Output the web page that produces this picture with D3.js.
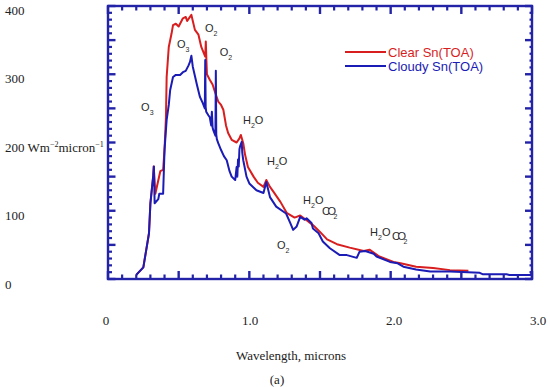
<!DOCTYPE html>
<html>
<head>
<meta charset="utf-8">
<script src="https://cdn.jsdelivr.net/npm/d3@7"></script>
<style>
  body { margin: 0; background: #fff; }
  svg { display: block; }
</style>
</head>
<body>
<svg id="chart" width="550" height="387"></svg>
<script>
// clear sky spectrum (red)
const clearWavelength = [0.20, 0.25, 0.27, 0.29, 0.30, 0.32, 0.323, 0.335, 0.37, 0.39, 0.40, 0.41, 0.415, 0.43, 0.45, 0.46,
    0.48, 0.50, 0.52, 0.53, 0.55, 0.56, 0.58, 0.59, 0.60, 0.615, 0.64, 0.66, 0.68, 0.688, 0.692, 0.696, 0.70, 0.72, 0.74,
    0.757, 0.78, 0.80, 0.816, 0.835, 0.85, 0.875, 0.91, 0.93, 0.94, 0.957, 0.97, 0.99, 1.03, 1.06, 1.10, 1.12, 1.146,
    1.17, 1.22, 1.264, 1.32, 1.36, 1.405, 1.45, 1.50, 1.55, 1.62, 1.71, 1.81, 1.85, 1.92, 2.02, 2.07, 2.18, 2.30, 2.42, 2.55]
const clearValues = [6, 17, 42, 67, 111, 151, 165, 125, 158, 160, 190, 237, 296, 340, 360, 372,
    374, 370, 378, 382, 384, 378, 384, 387, 378, 365, 358, 340, 330, 326, 348, 322, 300, 292, 285,
    274, 260, 255, 248, 225, 214, 204, 200, 206, 211, 199, 182, 164, 150, 141, 135, 145, 135,
    128, 113, 97, 90, 93, 86, 79, 69, 58, 51, 46, 41, 43, 33, 25, 23, 18, 16, 13, 12]

// cloudy spectrum (blue)
const cloudyWavelength = [0.20, 0.25, 0.27, 0.29, 0.30, 0.32, 0.325, 0.33, 0.356, 0.363, 0.39, 0.40, 0.415, 0.43, 0.44, 0.46,
    0.48, 0.51, 0.53, 0.55, 0.57, 0.58, 0.59, 0.60, 0.63, 0.65, 0.67, 0.685, 0.688, 0.691, 0.695, 0.71, 0.72, 0.73,
    0.735, 0.74, 0.745, 0.76, 0.763, 0.766, 0.77, 0.78, 0.80, 0.82, 0.84, 0.86, 0.875, 0.90, 0.91, 0.915, 0.92, 0.925,
    0.93, 0.934, 0.946, 0.95, 0.957, 0.98, 1.00, 1.05, 1.10, 1.12, 1.146, 1.19, 1.26, 1.29, 1.31, 1.335, 1.36, 1.39,
    1.405, 1.44, 1.45, 1.49, 1.52, 1.57, 1.64, 1.69, 1.76, 1.78, 1.82, 1.88, 1.90, 1.995, 2.05, 2.09, 2.18, 2.28,
    2.42, 2.63, 2.65, 2.82, 2.84, 2.99, 3.0]
const cloudyValues = [6, 17, 42, 67, 111, 151, 165, 111, 117, 125, 125, 189, 233, 255, 277, 296,
    299, 299, 303, 305, 313, 318, 327, 311, 284, 267, 258, 250, 321, 252, 245, 240, 237, 225,
    245, 222, 218, 210, 305, 212, 205, 199, 189, 180, 174, 158, 150, 145, 164, 150, 175, 165,
    190, 194, 201, 185, 174, 150, 140, 130, 126, 142, 120, 106, 96, 82, 72, 77, 91, 87,
    89, 82, 74, 67, 55, 45, 35, 35, 31, 40, 41, 37, 33, 25, 23, 18, 14, 11,
    11, 9, 7, 7, 6, 6, 9]

const xMajorTicks = [0, 0.5, 1.0, 1.5, 2.0, 2.5, 3.0]
const xTickLabels = ["0", "1.0", "2.0", "3.0"]
const xLabelValues = [0, 1, 2, 3]
const yMajorTicks = [0, 50, 100, 150, 200, 250, 300, 350, 400]
const yLabelValues = [400, 300, 200, 100, 0]
const yTickLabels = ["400", "300", "200", "100", "0"]

// absorption band notes: [main parts], anchor in microns / units
const bandText = [["O", "3", ""], ["O", "3", ""], ["O", "2", ""], ["O", "2", ""], ["H", "2", "O"], ["H", "2", "O"],
    ["H", "2", "O"], ["CO", "2", ""], ["O", "2", ""], ["H", "2", "O"], ["CO", "2", ""]]
const bandWavelength = [0.234, 0.488, 0.686, 0.79, 0.955, 1.125, 1.38, 1.514, 1.196, 1.854, 2.01]
const bandValue = [252, 344, 368, 333, 233, 173, 116, 100, 50, 69, 63]

const frameColor = "#2323a8"
const clearColor = "#d81e1e"
const cloudyColor = "#1b1bb5"

const svg = d3.select("#chart")

const x = d3.scaleLinear().domain([0, 3]).range([108, 532])
const y = d3.scaleLinear().domain([0, 400]).range([279, 6])
// the tick numbers sit a little off the frame in the original figure
const xLab = d3.scaleLinear().domain([0, 3]).range([106, 538])
const yLab = d3.scaleLinear().domain([0, 400]).range([284, 10])

const xMinor = d3.range(0, 31, 1).map(d => d / 10).filter(d => !xMajorTicks.includes(d))
const yMinor = d3.range(0, 401, 10).filter(d => !yMajorTicks.includes(d))

svg.append("rect")
    .attr("x", x(0)).attr("y", y(400))
    .attr("width", x(3) - x(0)).attr("height", y(0) - y(400))
    .attr("fill", "none").attr("stroke", frameColor).attr("stroke-width", 2.4)

const line = d3.line().x(d => x(d[0])).y(d => y(d[1]))

svg.append("path")
    .datum(d3.zip(clearWavelength, clearValues))
    .attr("d", line)
    .attr("fill", "none").attr("stroke", clearColor).attr("stroke-width", 2)
    .attr("stroke-linejoin", "round")

svg.append("path")
    .datum(d3.zip(cloudyWavelength, cloudyValues))
    .attr("d", line)
    .attr("fill", "none").attr("stroke", cloudyColor).attr("stroke-width", 2)
    .attr("stroke-linejoin", "round")

// inward ticks on all four sides, drawn over the frame
function drawTicks(vals, len, rightLen, width) {
    svg.selectAll(null).data(vals).join("line")
        .attr("x1", d => x(d)).attr("x2", d => x(d))
        .attr("y1", y(0)).attr("y2", y(0) - len)
        .attr("stroke", frameColor).attr("stroke-width", width)
    svg.selectAll(null).data(vals).join("line")
        .attr("x1", d => x(d)).attr("x2", d => x(d))
        .attr("y1", y(400)).attr("y2", y(400) + len)
        .attr("stroke", frameColor).attr("stroke-width", width)
}
function drawYTicks(vals, len, rightLen, width) {
    svg.selectAll(null).data(vals).join("line")
        .attr("y1", d => y(d)).attr("y2", d => y(d))
        .attr("x1", x(0)).attr("x2", x(0) + len)
        .attr("stroke", frameColor).attr("stroke-width", width)
    svg.selectAll(null).data(vals).join("line")
        .attr("y1", d => y(d)).attr("y2", d => y(d))
        .attr("x1", x(3)).attr("x2", x(3) - rightLen)
        .attr("stroke", frameColor).attr("stroke-width", width)
}
drawTicks(xMajorTicks, 8, 8, 2.4)
drawTicks(xMinor, 4.5, 4.5, 2.2)
drawYTicks(yMajorTicks, 7.5, 7, 2.4)
drawYTicks(yMinor, 4, 2.5, 2.2)

// legend
const legend = [["Clear Sn(TOA)", clearColor], ["Cloudy Sn(TOA)", cloudyColor]]
legend.forEach((d, i) => {
    let ly = 52 + i * 14
    svg.append("line")
        .attr("x1", 345).attr("x2", 386).attr("y1", ly).attr("y2", ly)
        .attr("stroke", d[1]).attr("stroke-width", 2)
    svg.append("text")
        .attr("x", 388).attr("y", ly + 4.5)
        .attr("font-family", "Liberation Sans, Arial, sans-serif")
        .attr("font-size", 13)
        .attr("fill", d[1])
        .text(d[0])
})

// band notes
bandText.forEach((parts, i) => {
    let t = svg.append("text")
        .attr("x", x(bandWavelength[i])).attr("y", y(bandValue[i]) + 4)
        .attr("font-family", "Liberation Sans, Arial, sans-serif")
        .attr("font-size", 11)
        .attr("fill", "#2a2a2a")
    t.append("tspan").text(parts[0])
        .attr("letter-spacing", parts[0] == "CO" ? -2.5 : 0)
    t.append("tspan").text(parts[1]).attr("font-size", 7).attr("dy", 4)
    if (parts[2]) t.append("tspan").text(parts[2]).attr("dy", -4)
})

const serif = "'Liberation Serif', serif"

svg.selectAll(".xlab")
    .data(xLabelValues)
    .join("text")
    .attr("class", "xlab")
    .attr("x", d => xLab(d)).attr("y", 325)
    .attr("text-anchor", "middle")
    .attr("font-family", serif).attr("font-size", 13).attr("fill", "#222")
    .text((d, i) => xTickLabels[i])

svg.selectAll(".ylab")
    .data(yLabelValues)
    .join("text")
    .attr("class", "ylab")
    .attr("x", 5).attr("y", d => yLab(d) + 4.5)
    .attr("font-family", serif).attr("font-size", 13).attr("fill", "#222")
    .each(function (d, i) {
        let t = d3.select(this)
        t.append("tspan").text(yTickLabels[i])
        if (d == 200) {
            // unit written next to the 200 label
            t.append("tspan").text(" Wm")
            t.append("tspan").text("−2").attr("font-size", 8).attr("dy", -5)
            t.append("tspan").text("micron").attr("dy", 5)
            t.append("tspan").text("−1").attr("font-size", 8).attr("dy", -5)
        }
    })

svg.append("text")
    .attr("x", 291).attr("y", 360)
    .attr("text-anchor", "middle")
    .attr("font-family", serif).attr("font-size", 13).attr("fill", "#222")
    .text("Wavelength, microns")

svg.append("text")
    .attr("x", 277).attr("y", 384)
    .attr("text-anchor", "middle")
    .attr("font-family", serif).attr("font-size", 13).attr("fill", "#222")
    .text("(a)")
</script>
</body>
</html>
